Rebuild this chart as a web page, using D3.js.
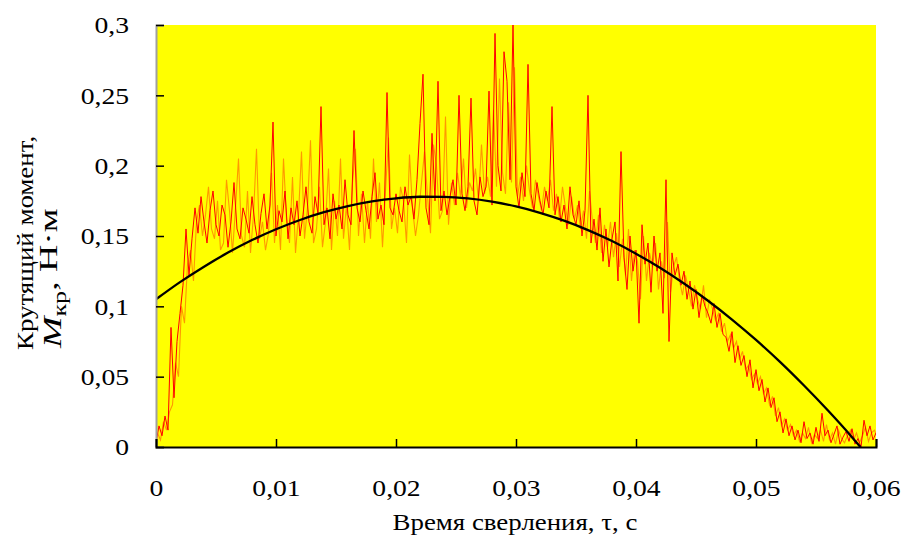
<!doctype html>
<html>
  <head>
    <meta charset="utf-8">
    <style>
      body { margin: 0; background: white; }
      text { font-family: 'Liberation Serif', 'Times New Roman', serif; fill: black; }
    </style>
    <script src="https://d3js.org/d3.v7.min.js"></script>
  </head>
  <body>
    <svg id="chart" width="904" height="539"></svg>
    <script>
      // sampled torque, two measurement channels (N*m), one sample per 0.25 ms
      // the orange channel is sampled half a step later than the red one
      const sampleStep = 0.00025;
      const redValues = [
        0.003, 0.015, 0.008, 0.022, 0.012, 0.085, 0.035, 0.075, 0.095, 0.115,
        0.155, 0.122, 0.148, 0.170, 0.152, 0.178, 0.160, 0.145, 0.168, 0.182,
        0.158, 0.150, 0.172, 0.165, 0.142, 0.160, 0.188, 0.155, 0.148, 0.170,
        0.162, 0.152, 0.178, 0.158, 0.145, 0.166, 0.180, 0.155, 0.172, 0.231,
        0.150, 0.168, 0.160, 0.182, 0.148, 0.170, 0.158, 0.175, 0.150, 0.165,
        0.185, 0.160, 0.152, 0.178, 0.166, 0.242, 0.158, 0.170, 0.148, 0.180,
        0.162, 0.172, 0.155, 0.190, 0.165, 0.158, 0.225, 0.170, 0.160, 0.182,
        0.168, 0.155, 0.178, 0.195, 0.162, 0.172, 0.158, 0.252, 0.170, 0.165,
        0.180, 0.168, 0.160, 0.185, 0.172, 0.178, 0.162, 0.190, 0.230, 0.265,
        0.170, 0.158, 0.223, 0.175, 0.260, 0.168, 0.182, 0.165, 0.178, 0.190,
        0.172, 0.250, 0.180, 0.168, 0.185, 0.248, 0.175, 0.165, 0.192, 0.178,
        0.185, 0.253, 0.172, 0.294, 0.200, 0.182, 0.281, 0.260, 0.190, 0.300,
        0.185, 0.170, 0.195, 0.178, 0.272, 0.180, 0.168, 0.188, 0.175, 0.165,
        0.182, 0.170, 0.242, 0.165, 0.178, 0.160, 0.172, 0.155, 0.185, 0.165,
        0.158, 0.175, 0.150, 0.168, 0.250, 0.145, 0.162, 0.140, 0.170, 0.132,
        0.155, 0.128, 0.148, 0.160, 0.118, 0.210, 0.135, 0.112, 0.150, 0.125,
        0.140, 0.088, 0.158, 0.130, 0.145, 0.110, 0.150, 0.125, 0.138, 0.095,
        0.190, 0.075, 0.138, 0.122, 0.130, 0.115, 0.125, 0.105, 0.118, 0.098,
        0.112, 0.092, 0.108, 0.100, 0.095, 0.088, 0.102, 0.085, 0.095, 0.080,
        0.078, 0.068, 0.082, 0.060, 0.072, 0.058, 0.065, 0.050, 0.062, 0.042,
        0.055, 0.040, 0.048, 0.032, 0.042, 0.028, 0.035, 0.018, 0.025, 0.010,
        0.020, 0.008, 0.015, 0.005, 0.012, 0.003, 0.018, 0.006, 0.010, 0.002,
        0.014, 0.004, 0.024, 0.008, 0.012, 0.003, 0.009, 0.015, 0.002, 0.007,
        0.011, 0.004, 0.013, 0.002, 0.006, 0.000, 0.019, 0.008, 0.015, 0.005,
        0.010
      ];
      const orangeValues = [
        0.010, 0.005, 0.018, 0.012, 0.025, 0.030, 0.060, 0.050, 0.100, 0.088,
        0.130, 0.140, 0.118, 0.160, 0.172, 0.150, 0.165, 0.185, 0.155, 0.148,
        0.175, 0.140, 0.145, 0.190, 0.168, 0.138, 0.170, 0.205, 0.150, 0.142,
        0.182, 0.138, 0.165, 0.212, 0.148, 0.160, 0.140, 0.152, 0.195, 0.145,
        0.172, 0.140, 0.205, 0.162, 0.145, 0.192, 0.138, 0.165, 0.210, 0.148,
        0.170, 0.218, 0.145, 0.155, 0.185, 0.142, 0.160, 0.198, 0.140, 0.175,
        0.150, 0.205, 0.148, 0.172, 0.140, 0.188, 0.212, 0.150, 0.180, 0.145,
        0.175, 0.148, 0.205, 0.160, 0.188, 0.142, 0.182, 0.220, 0.155, 0.170,
        0.152, 0.185, 0.175, 0.145, 0.208, 0.170, 0.150, 0.165, 0.188, 0.210,
        0.178, 0.152, 0.215, 0.200, 0.162, 0.168, 0.235, 0.158, 0.188, 0.172,
        0.195, 0.178, 0.205, 0.170, 0.188, 0.182, 0.198, 0.175, 0.215, 0.180,
        0.192, 0.178, 0.240, 0.185, 0.262, 0.195, 0.180, 0.245, 0.188, 0.270,
        0.178, 0.192, 0.175, 0.200, 0.182, 0.170, 0.190, 0.178, 0.168, 0.185,
        0.175, 0.190, 0.168, 0.180, 0.162, 0.185, 0.170, 0.158, 0.178, 0.162,
        0.172, 0.155, 0.168, 0.148, 0.182, 0.160, 0.145, 0.165, 0.138, 0.158,
        0.142, 0.160, 0.135, 0.152, 0.128, 0.148, 0.122, 0.155, 0.118, 0.140,
        0.132, 0.105, 0.150, 0.118, 0.138, 0.128, 0.145, 0.112, 0.132, 0.120,
        0.160, 0.110, 0.128, 0.135, 0.118, 0.108, 0.122, 0.112, 0.100, 0.115,
        0.105, 0.098, 0.115, 0.092, 0.105, 0.098, 0.090, 0.095, 0.082, 0.088,
        0.075, 0.080, 0.070, 0.075, 0.062, 0.068, 0.055, 0.058, 0.048, 0.052,
        0.045, 0.050, 0.038, 0.042, 0.030, 0.036, 0.022, 0.028, 0.015, 0.020,
        0.012, 0.016, 0.008, 0.012, 0.004, 0.010, 0.006, 0.014, 0.003, 0.009,
        0.006, 0.012, 0.004, 0.016, 0.005, 0.010, 0.002, 0.012, 0.006, 0.003,
        0.008, 0.012, 0.005, 0.010, 0.003, 0.008, 0.014, 0.004, 0.010, 0.012,
        0.006
      ];

      // fitted trend line
      const trendTimes = [0, 0.002, 0.004, 0.006, 0.008, 0.010, 0.012, 0.014, 0.016, 0.018,
        0.020, 0.022, 0.024, 0.026, 0.028, 0.030, 0.032, 0.034, 0.036, 0.038,
        0.040, 0.042, 0.044, 0.046, 0.048, 0.050, 0.052, 0.054, 0.056, 0.058, 0.0587];
      const trendValues = [0.1050, 0.1172, 0.1282, 0.1382, 0.1471, 0.1548, 0.1614, 0.1669, 0.1713, 0.1746,
        0.1768, 0.1779, 0.1778, 0.1767, 0.1744, 0.1710, 0.1665, 0.1609, 0.1542, 0.1464,
        0.1374, 0.1274, 0.1162, 0.1040, 0.0906, 0.0761, 0.0605, 0.0437, 0.0259, 0.0070, 0.0];

      const xTicks = [0, 0.01, 0.02, 0.03, 0.04, 0.05, 0.06];
      const yTicks = [0, 0.05, 0.1, 0.15, 0.2, 0.25, 0.3];
      const xTitle = "Время сверления, τ, с";
      const yTitle = "Крутящий момент,";

      const svg = d3.select("#chart");
      const pLeft = 156, pRight = 876, pTop = 25, pBottom = 447;

      const x = d3.scaleLinear().domain([0, 0.06]).range([pLeft, pRight]);
      const y = d3.scaleLinear().domain([0, 0.3]).range([pBottom, pTop]);

      const ru = d3.formatLocale({decimal: ",", thousands: " ", grouping: [3], currency: ["", ""]});
      const fmt = ru.format("~g");

      // stretch text a bit wider, the source renders its serif glyphs broad
      function widen(sel, k) {
        sel.each(function() {
          const w = this.getComputedTextLength();
          d3.select(this).attr("textLength", w * k).attr("lengthAdjust", "spacingAndGlyphs");
        });
      }

      svg.append("rect")
        .attr("x", pLeft).attr("y", pTop)
        .attr("width", pRight - pLeft).attr("height", pBottom - pTop)
        .attr("fill", "#ffff00");

      svg.append("clipPath").attr("id", "plot")
        .append("rect")
        .attr("x", pLeft).attr("y", pTop)
        .attr("width", pRight - pLeft).attr("height", pBottom - pTop);

      const plot = svg.append("g").attr("clip-path", "url(#plot)");

      const redLine = d3.line()
        .x((d, i) => x(i * sampleStep))
        .y(d => y(d));
      const orangeLine = d3.line()
        .x((d, i) => x((i + 0.5) * sampleStep))
        .y(d => y(d));

      plot.append("path")
        .datum(orangeValues)
        .attr("fill", "none")
        .attr("stroke", "#ff9900")
        .attr("stroke-width", 1.1)
        .attr("d", orangeLine);

      plot.append("path")
        .datum(redValues)
        .attr("fill", "none")
        .attr("stroke", "#ff0000")
        .attr("stroke-width", 1)
        .attr("d", redLine);

      const trend = d3.line()
        .x((d, i) => x(trendTimes[i]))
        .y(d => y(d))
        .curve(d3.curveMonotoneX);

      plot.append("path")
        .datum(trendValues)
        .attr("fill", "none")
        .attr("stroke", "black")
        .attr("stroke-width", 2.3)
        .attr("d", trend);

      // axes, ticks pointing into the plot
      const yAxis = svg.append("g")
        .attr("transform", "translate(" + pLeft + ",0)")
        .call(d3.axisLeft(y).tickValues(yTicks).tickFormat(fmt).tickSize(-8).tickPadding(27));
      yAxis.select(".domain").attr("stroke", "#a0a0a0").attr("stroke-width", 2);
      yAxis.selectAll(".tick line").attr("stroke", "black").attr("stroke-width", 1.5);
      yAxis.selectAll("text").style("font-size", "24px");
      widen(yAxis.selectAll("text"), 1.15);

      const xAxis = svg.append("g")
        .attr("transform", "translate(0," + pBottom + ")")
        .call(d3.axisBottom(x).tickValues(xTicks).tickFormat(fmt).tickSize(-8).tickPadding(41));
      xAxis.select(".domain").attr("stroke", "black").attr("stroke-width", 2);
      xAxis.selectAll(".tick line").attr("stroke", "black").attr("stroke-width", 1.5);
      xAxis.selectAll("text").style("font-size", "24px").attr("dy", "0.32em");
      widen(xAxis.selectAll("text"), 1.15);

      const xt = svg.append("text")
        .attr("x", 515).attr("y", 530)
        .attr("text-anchor", "middle")
        .style("font-size", "24px")
        .text(xTitle);
      widen(xt, 1.12);

      const yt = svg.append("text")
        .attr("transform", "translate(33,350) rotate(-90)")
        .attr("text-anchor", "start")
        .style("font-size", "24px")
        .text(yTitle);
      widen(yt, 1.12);

      const yt2 = svg.append("text")
        .attr("transform", "translate(61,348) rotate(-90)")
        .attr("text-anchor", "start")
        .style("font-size", "26px");
      yt2.append("tspan").style("font-style", "italic").text("M");
      yt2.append("tspan").attr("dy", "0.25em").style("font-size", "18px").text("кр");
      yt2.append("tspan").attr("dy", "-0.33em").text(", Н·м");
      widen(yt2, 1.45);
    </script>
  </body>
</html>
